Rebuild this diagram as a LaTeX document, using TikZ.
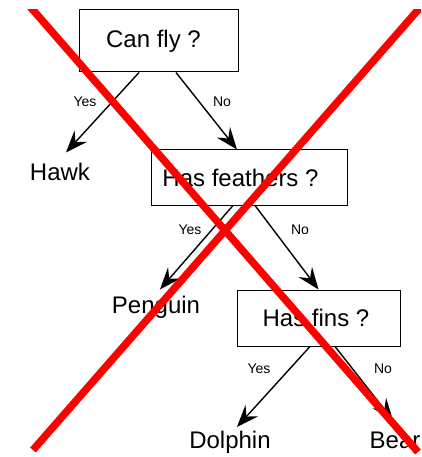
\documentclass[tikz,border=0pt]{standalone}
\usepackage{fontspec}
\setmainfont{Liberation Sans}
\usetikzlibrary{arrows.meta}
\newcommand{\branch}[2]{\draw[-{Stealth[length=22pt,width=17pt,inset=8pt]}, line width=1.4pt] (#1) -- (#2);}

\begin{document}
\begin{tikzpicture}[x = 1pt, y = -1pt,
  question/.style = {draw, line width = 1pt, inner sep = 0pt, font = \fontsize{24}{28}\selectfont},
  leaf/.style = {anchor = base, inner sep = 0pt, font = \fontsize{24}{28}\selectfont},
  answer/.style = {inner sep = 0pt, font = \fontsize{14}{16}\selectfont},
  cross/.style = {red, line width = 7.5pt}]
\useasboundingbox (0,0) rectangle (421,457);
% questions (text sits a little left of centre)
\node[question, minimum width = 159pt, minimum height = 62pt] (canfly) at (158.5,41) {Can fly ?\kern10pt};
\node[question, minimum width = 196pt, minimum height = 55pt] (feathers) at (249,177.5) {Has feathers ?\kern17pt};
\node[question, minimum width = 163pt, minimum height = 56pt] (fins) at (318.5,318) {Has fins ?\kern5pt};
% animals
\node[leaf] (hawk) at (60,180) {Hawk};
\node[leaf] (penguin) at (156,313) {Penguin};
\node[leaf] (dolphin) at (230,448) {Dolphin};
\node[leaf] (bear) at (395,448) {Bear};
% branches
\branch{[xshift=-19.5pt]canfly.south}{[xshift=6pt, yshift=10pt]hawk.north}
\branch{[xshift=17.5pt]canfly.south}{[xshift=-12pt]feathers.north}
\branch{[xshift=-16pt]feathers.south}{[xshift=4pt, yshift=6pt]penguin.north}
\branch{[xshift=6pt]feathers.south}{fins.north}
\branch{[xshift=-8.5pt]fins.south}{[xshift=7pt, yshift=3.5pt]dolphin.north}
\branch{[xshift=16.5pt]fins.south}{[xshift=-2pt, yshift=11pt]bear.north}
\node[answer] (yes1) at (85,102) {Yes};
\node[answer] (no1) at (222,102) {No};
\node[answer] (yes2) at (190,230) {Yes};
\node[answer] (no2) at (300,230) {No};
\node[answer] (yes3) at (259,369) {Yes};
\node[answer] (no3) at (383,369) {No};
% crossed out
\begin{scope}
\clip (0,9.5) rectangle (421,457);
\draw[cross] (27.8,4) -- (418,452);
\draw[cross] (423.2,4) -- (33,450);
\end{scope}
\end{tikzpicture}
\end{document}
